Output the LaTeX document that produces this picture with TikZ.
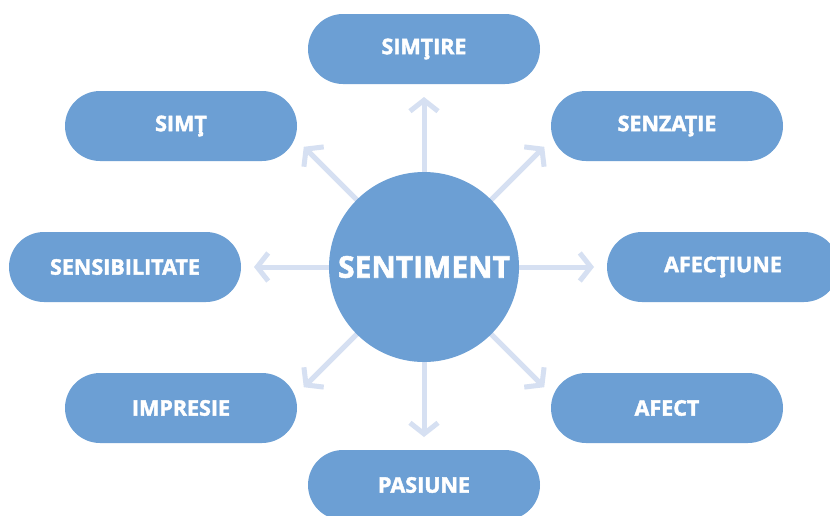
\documentclass[tikz,border=0pt]{standalone}
\usepackage{fontspec}
\setmainfont{Open Sans}[BoldFeatures={FakeBold=2}]
\usetikzlibrary{arrows.meta,calc}
\definecolor{boxblue}{RGB}{108,159,212}
\definecolor{arrowblue}{RGB}{214,224,242}
\tikzset{
  pill/.style={fill=boxblue, draw=none, rounded corners=35pt, minimum width=232pt, minimum height=70pt, inner sep=0pt, text=white, font=\fontsize{21.5}{23}\selectfont\bfseries},
  hub/.style={circle, fill=boxblue, draw=none, minimum size=190pt, inner sep=0pt, text=white, font=\fontsize{30}{32}\selectfont\bfseries},
  spoke/.style={draw=arrowblue, line width=5pt, -{Straight Barb[length=11pt, width=28pt]}}
}
\begin{document}
\begin{tikzpicture}[x=1pt, y=-1pt]
\useasboundingbox (0,0) rectangle (830,515);
\clip (0,0) rectangle (830,515);
\fill[white] (0,0) rectangle (830,515);
\coordinate (o) at (424,267);
\foreach \a/\n in {90/tn, 45/tne, 0/te, -45/tse, -90/ts, -135/tsw, 180/tw, 135/tnw} {
  \coordinate (\n) at ($(o)+(\a:170)$);
}
\node[pill] (simtire) at (424,49) {SIMŢIRE};
\node[pill] (simt) at (181,126) {SIMŢ};
\node[pill] (senzatie) at (667,126) {SENZAŢIE};
\node[pill] (sensib) at (125,267) {SENSIBILITATE};
\node[pill] (afectiune) at (723,267) {AFECŢIUNE};
\node[pill] (impresie) at (181,408) {IMPRESIE};
\node[pill] (afect) at (667,408) {AFECT};
\node[pill] (pasiune) at (424,485) {PASIUNE};
\foreach \n in {tn,tne,te,tse,ts,tsw,tw,tnw} {
  \draw[spoke] (o) -- (\n);
}
\node[hub] (hub) at (o) {SENTIMENT};
\end{tikzpicture}
\end{document}
